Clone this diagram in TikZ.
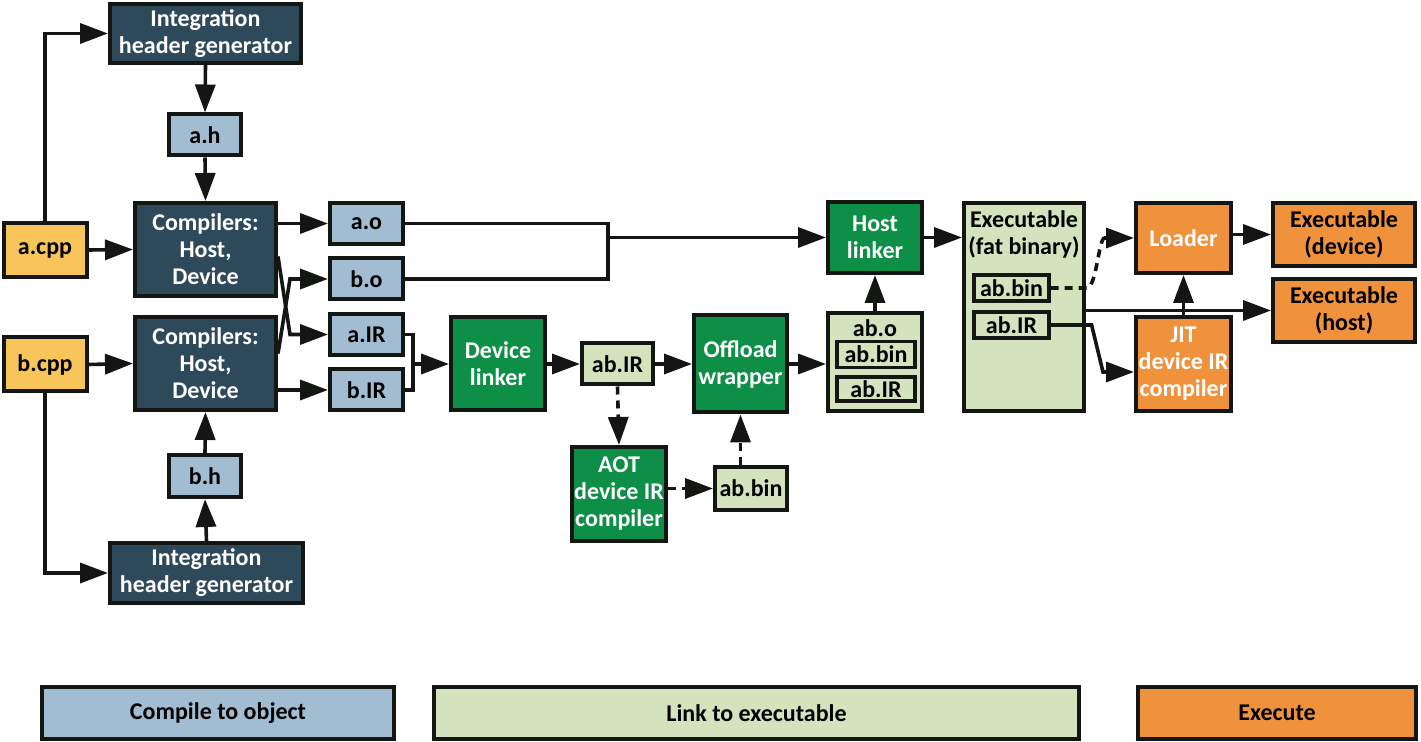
\documentclass[tikz,border=0pt]{standalone}
\usepackage{fontspec}
\setmainfont{Carlito}
\usetikzlibrary{arrows.meta}

\definecolor{ink}{HTML}{141614}
\definecolor{slate}{HTML}{2E4A5A}
\definecolor{srcyellow}{HTML}{F8C55B}
\definecolor{objblue}{HTML}{A2BDD1}
\definecolor{linkgreen}{HTML}{0E8F47}
\definecolor{filegreen}{HTML}{D4E2BD}
\definecolor{runorange}{HTML}{F0923C}

\begin{document}
\begin{tikzpicture}[x=0.5pt, y=-0.5pt,
		box/.style={draw=ink, line width=2pt, inner sep=1pt, align=center, font=\bfseries\fontsize{12}{13.5}\selectfont},
		darkbox/.style={box, fill=slate, text=white},
		srcbox/.style={box, fill=srcyellow, minimum width=41.5pt, minimum height=27pt},
		objbox/.style={box, fill=objblue, minimum width=36.5pt, minimum height=20.5pt},
		linkbox/.style={box, fill=linkgreen, text=white},
		filebox/.style={box, fill=filegreen},
		runbox/.style={box, fill=runorange, text=white},
		outbox/.style={box, fill=runorange, minimum width=71pt, minimum height=31.5pt},
		inbox/.style={box, fill=filegreen, line width=1.6pt},
		legend/.style={box, minimum height=26pt},
		lbl/.style={align=center, inner sep=0pt, font=\bfseries\fontsize{12}{13.5}\selectfont},
		ln/.style={draw=ink, line width=1.8pt},
		arr/.style={ln, -{Triangle[length=14pt, width=10pt]}},
		dsh/.style={arr, dash pattern=on 4pt off 3pt}]
	\useasboundingbox (0,0) rectangle (1421,742);

	% compile to object
	\node (gena) at (205.5,33.5)[darkbox, minimum width=95.5pt, minimum height=29.5pt]{Integration\\header generator};
	\node (ah) at (205,135)[objbox, minimum width=36pt]{a.h};
	\node (acpp) at (45,250)[srcbox]{a.cpp};
	\node (cmpa) at (205.5,249.5)[darkbox, minimum width=70.5pt, minimum height=46.5pt]{Compilers:\\Host,\\Device};
	\node (cmpb) at (205.5,363.5)[darkbox, minimum width=70.5pt, minimum height=46.5pt]{Compilers:\\Host,\\Device};
	\node (bcpp) at (45,364.5)[srcbox]{b.cpp};
	\node (bh) at (205,476)[objbox, minimum width=36pt, minimum height=21pt]{b.h};
	\node (genb) at (206.5,573)[darkbox, minimum width=96.5pt, minimum height=30pt]{Integration\\header generator};
	\node (ao) at (366.5,223.5)[objbox]{a.o};
	\node (bo) at (366.5,279)[objbox]{b.o};
	\node (air) at (366.5,334.5)[objbox]{a.IR};
	\node (bir) at (366.5,390)[objbox]{b.IR};

	% link to executable
	\node (dlink) at (498,364)[linkbox, minimum width=47pt, minimum height=46.5pt]{Device\\linker};
	\node (abir) at (617.5,364)[filebox, minimum width=35.5pt, minimum height=20.5pt]{ab.IR};
	\node (offl) at (740.5,364)[linkbox, minimum width=46.5pt, minimum height=48.5pt]{Offload\\wrapper};
	\node (aot) at (619,494)[linkbox, minimum width=47pt, minimum height=47pt]{AOT\\device IR\\compiler};
	\node (abbin) at (751,488.5)[filebox, minimum width=36pt, minimum height=21.5pt]{ab.bin};
	\node (hlink) at (875,237.5)[linkbox, minimum width=47pt, minimum height=35.5pt]{Host\\linker};
	\node (abo) at (875,362)[filebox, minimum width=47pt, minimum height=49pt]{};
	\node (abolbl) at (875,328)[lbl]{ab.o};
	\node (abobin) at (876,354.5)[inbox, minimum width=39pt, minimum height=13pt]{ab.bin};
	\node (aboir) at (876,389)[inbox, minimum width=39pt, minimum height=12pt]{ab.IR};
	\node (exe) at (1024,307)[filebox, minimum width=60pt, minimum height=104pt]{};
	\node (exelbl) at (1024,234)[lbl]{Executable\\(fat binary)};
	\node (exebin) at (1011.5,288)[inbox, minimum width=37.5pt, minimum height=13pt]{ab.bin};
	\node (exeir) at (1011.5,325)[inbox, minimum width=37.5pt, minimum height=13pt]{ab.IR};

	% execute
	\node (loader) at (1183.5,238)[runbox, minimum width=47.5pt, minimum height=35pt]{Loader};
	\node (jit) at (1183.5,364)[runbox, minimum width=47.5pt, minimum height=47pt]{JIT\\device IR\\compiler};
	\node (exdev) at (1344,234.5)[outbox]{Executable\\(device)};
	\node (exhost) at (1344,310.5)[outbox]{Executable\\(host)};

	% legend
	\node (lgcomp) at (218,713)[legend, fill=objblue, minimum width=176pt]{Compile to object};
	\node (lglink) at (756.5,713)[legend, fill=filegreen, minimum width=322.5pt]{Link to executable};
	\node (lgrun) at (1277,713)[legend, fill=runorange, minimum width=139pt]{Execute};

	\coordinate (mo) at (608,237.5);
	\coordinate (mi) at (413,364);
	\coordinate (jin) at (1103,372);

	\draw[arr] (acpp.north) |- (gena.west);
	\draw[arr] (bcpp.south) |- (genb.west);
	\draw[arr] (gena.south) -- (ah.north);
	\draw[arr] (ah.south) -- (cmpa.north);
	\draw[arr] (genb.north) -- (bh.south);
	\draw[arr] (bh.north) -- (cmpb.south);
	\draw[arr] (acpp.east) -- (cmpa.west);
	\draw[arr] (bcpp.east) -- (cmpb.west);
	\draw[arr] (cmpa.east |- ao.west) -- (ao.west);
	\draw[arr] ([yshift=-3.5pt]cmpa.east) -- ([xshift=6pt]cmpa.east |- air.west) -- (air.west);
	\draw[arr] ([yshift=5pt]cmpb.east) -- ([xshift=6pt]cmpb.east |- bo.west) -- (bo.west);
	\draw[arr] (cmpb.east |- bir.west) -- (bir.west);

	\draw[ln] (ao.east) -| (mo) |- (bo.east);
	\draw[arr] (mo) -- (mo -| hlink.west);
	\draw[ln] (air.east) -| (mi) |- (bir.east);
	\draw[arr] (mi) -- (dlink.west);
	\draw[arr] (dlink.east) -- (abir.west);
	\draw[arr] (abir.east) -- (offl.west);
	\draw[dsh] (abir.south) -- (aot.north);
	\draw[dsh] (aot.east |- abbin.west) -- (abbin.west);
	\draw[dsh] (offl.south |- abbin.north) -- (offl.south);
	\draw[arr] (offl.east) -- (offl.east -| abo.west);
	\draw[arr] (abo.north) -- (hlink.south);
	\draw[arr] (hlink.east) -- (hlink.east -| exe.west);

	\draw[dsh] (exebin.east) -- ++(36,0) .. controls +(10,0) and +(-6,0) .. ++(18,-50) -- (loader.west);
	\draw[arr] (exe.east |- exhost.west) -- (exhost.west);
	\draw[arr] (exeir.east) -- ++(41,0) -- (jin) -- (jin -| jit.west);
	\draw[arr] (jit.north) -- (loader.south);
	\draw[arr] (exdev.west -| loader.east) -- (exdev.west);
\end{tikzpicture}
\end{document}
